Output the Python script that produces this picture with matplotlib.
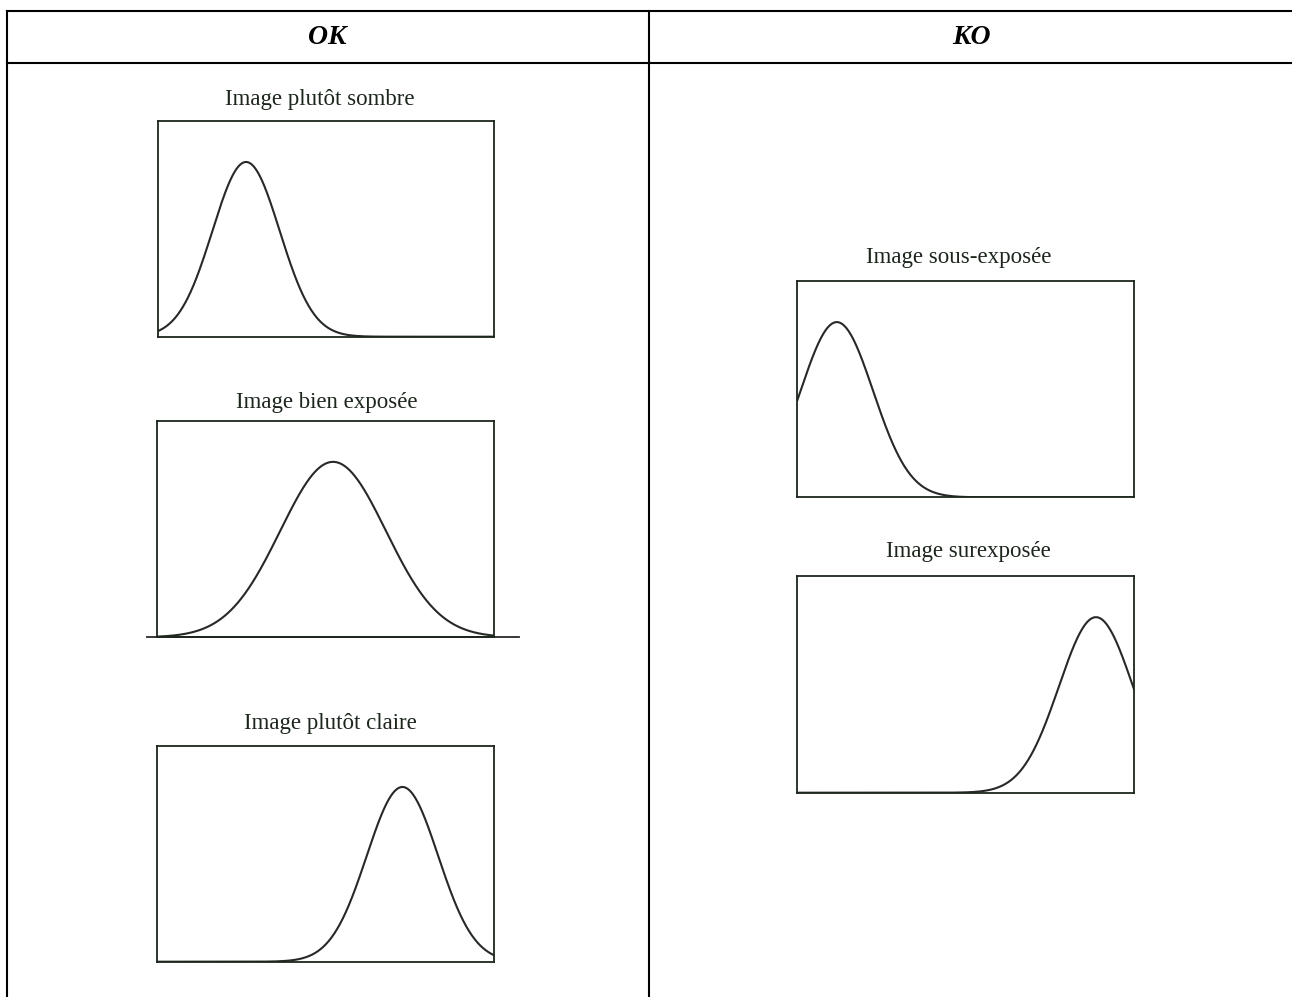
import numpy as np
import matplotlib
matplotlib.use('Agg')
import matplotlib.pyplot as plt

# donnees (niveaux 0-255, hauteur relative du cadre)
en_tetes = ['OK', 'KO']
titres = ['Image plutôt sombre', 'Image bien exposée', 'Image plutôt claire',
          'Image sous-exposée', 'Image surexposée']
centres = [66.6, 133.0, 185.5, 29.9, 226.0]
largeurs = [25.5, 40.0, 27.0, 27.5, 28.0]
hauteurs = [0.81, 0.81, 0.81, 0.81, 0.81]

W, H = 1292, 997
fig = plt.figure(figsize=(W / 100, H / 100), dpi=100)
fig.patch.set_facecolor('white')

# calque pour le tableau, en pixels
fond = fig.add_axes([0, 0, 1, 1])
fond.set_xlim(0, W)
fond.set_ylim(H, 0)
fond.axis('off')

lw_tab = 1.5
fond.plot([7, W], [11.5, 11.5], color='black', lw=lw_tab)
fond.plot([7, W], [63, 63], color='black', lw=lw_tab)
fond.plot([7.3, 7.3], [11.5, H], color='black', lw=lw_tab)
fond.plot([649.3, 649.3], [11.5, H], color='black', lw=lw_tab)

for x_en, txt in zip([327.5, 971], en_tetes):
    fond.text(x_en, 37, txt, ha='center', va='center', fontsize=20,
              family='Liberation Serif', fontweight='bold', fontstyle='italic', color='black')

# cadres (pixels) et position des titres
cadres = [(158.3, 121, 494.3, 336.7), (157.3, 420.7, 494.3, 637.3), (157.3, 746, 494.3, 961.7),
          (797.3, 281, 1134.3, 497.3), (797.3, 576, 1134.3, 792.7)]
pos_titres = [(320, 99), (326.7, 402), (330, 723), (959, 257), (968, 551)]

couleur_texte = '#1c261c'
couleur_trait = '#262a26'
x = np.linspace(0, 255, 600)

for i in range(len(titres)):
    x0, y0, x1, y1 = cadres[i]
    ax = fig.add_axes([x0 / W, 1 - y1 / H, (x1 - x0) / W, (y1 - y0) / H])
    ax.set_xlim(0, 255)
    ax.set_ylim(0, 1)
    ax.set_xticks([])
    ax.set_yticks([])
    for sp in ax.spines.values():
        sp.set_color(couleur_texte)
        sp.set_linewidth(1.3)
    y = hauteurs[i] * np.exp(-0.5 * ((x - centres[i]) / largeurs[i]) ** 2)
    ax.plot(x, y, color=couleur_trait, lw=1.5)
    if i == 1:
        # la ligne de base depasse du cadre
        ax.plot([-8, 273.7], [0, 0], color=couleur_trait, lw=1.3, clip_on=False)
    tx, ty = pos_titres[i]
    fond.text(tx, ty, titres[i], ha='center', va='center', fontsize=16.5,
              family='Liberation Serif', color=couleur_texte)

fig.savefig('out.png', dpi=100, facecolor='white')
